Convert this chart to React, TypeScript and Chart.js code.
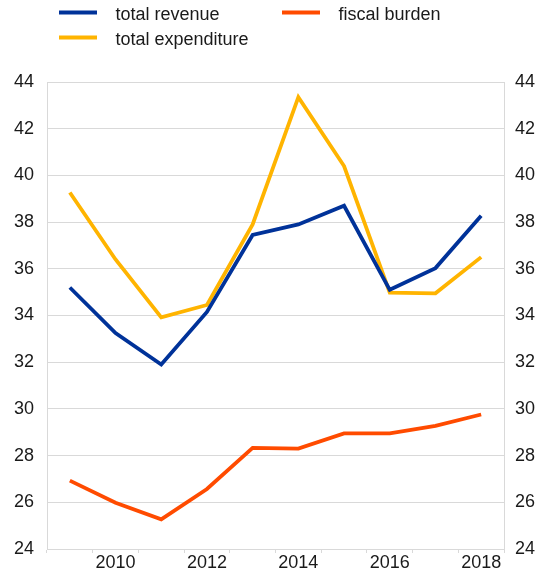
import React, { useEffect, useRef } from "react";
import { Chart, registerables } from "chart.js";

Chart.register(...registerables);

const years = ["2009", "2010", "2011", "2012", "2013", "2014", "2015", "2016", "2017", "2018"];
const shownYearLabels = ["2010", "2012", "2014", "2016", "2018"];

const totalRevenue = [35.2, 33.25, 31.9, 34.15, 37.45, 37.9, 38.7, 35.1, 36.03, 38.27];
const totalExpenditure = [39.27, 36.4, 33.92, 34.45, 37.9, 43.35, 40.4, 34.98, 34.95, 36.5];
const fiscalBurden = [26.93, 25.98, 25.27, 26.57, 28.33, 28.3, 28.95, 28.95, 29.27, 29.76];

const seriesLabels = ["total revenue", "total expenditure", "fiscal burden"];
const seriesColors = ["#003299", "#FFB400", "#FF4B00"];

const yMin = 24;
const yMax = 44;
const yStep = 2;

const FONT = "'Liberation Sans', Arial, sans-serif";
const TEXT_COLOR = "#1a1a1a";
const GRID_COLOR = "#d9d9d9";

const legendPlugin = {
  id: "topLegend",
  afterDraw(chart: any) {
    const ctx = chart.ctx as CanvasRenderingContext2D;
    const slots = [
      { x: 59, lineY: 12.5, textY: 20 },
      { x: 59, lineY: 37.5, textY: 45 },
      { x: 282, lineY: 12.5, textY: 20 },
    ];
    ctx.save();
    chart.data.datasets.forEach((ds: any, i: number) => {
      const s = slots[i];
      ctx.strokeStyle = ds.borderColor;
      ctx.lineWidth = 4;
      ctx.lineCap = "butt";
      ctx.beginPath();
      ctx.moveTo(s.x, s.lineY);
      ctx.lineTo(s.x + 38, s.lineY);
      ctx.stroke();
      ctx.fillStyle = TEXT_COLOR;
      ctx.font = `18px ${FONT}`;
      ctx.textAlign = "left";
      ctx.textBaseline = "alphabetic";
      ctx.fillText(ds.label, s.x + 56.5, s.textY);
    });
    ctx.restore();
  },
};

export default function App() {
  const canvasRef = useRef<HTMLCanvasElement | null>(null);

  useEffect(() => {
    if (!canvasRef.current) return;
    const seriesData = [totalRevenue, totalExpenditure, fiscalBurden];
    const chart = new Chart(canvasRef.current, {
      type: "line",
      data: {
        labels: years,
        datasets: seriesData.map((d, i) => ({
          label: seriesLabels[i],
          data: d,
          borderColor: seriesColors[i],
          backgroundColor: seriesColors[i],
          borderWidth: 3.8,
          pointRadius: 0,
          tension: 0,
          fill: false,
          borderJoinStyle: "miter" as const,
        })),
      },
      options: {
        responsive: false,
        animation: false,
        layout: { padding: { top: 82, left: 0, right: 0, bottom: 0 } },
        plugins: {
          legend: { display: false },
          tooltip: { enabled: false },
        },
        scales: {
          x: {
            type: "category",
            offset: true,
            grid: {
              offset: true,
              drawOnChartArea: false,
              drawTicks: true,
              tickLength: 4,
              color: GRID_COLOR,
            },
            border: { display: true, color: GRID_COLOR },
            ticks: {
              autoSkip: false,
              maxRotation: 0,
              minRotation: 0,
              padding: -1,
              color: TEXT_COLOR,
              font: { family: FONT, size: 18 },
              callback: function (this: any, value: any, index: number) {
                const lbl = years[index];
                return shownYearLabels.includes(lbl) ? lbl : "";
              },
            },
            afterFit: (scale: any) => {
              scale.height = 26;
            },
          },
          y: {
            position: "left",
            min: yMin,
            max: yMax,
            grid: { color: GRID_COLOR, drawTicks: false },
            border: { display: true, color: GRID_COLOR },
            ticks: {
              stepSize: yStep,
              padding: 13,
              color: TEXT_COLOR,
              font: { family: FONT, size: 18 },
            },
            afterFit: (scale: any) => {
              scale.width = 47;
            },
          },
          y2: {
            position: "right",
            min: yMin,
            max: yMax,
            grid: { drawOnChartArea: false, drawTicks: false, color: GRID_COLOR },
            border: { display: true, color: GRID_COLOR },
            ticks: {
              stepSize: yStep,
              padding: 11,
              color: TEXT_COLOR,
              font: { family: FONT, size: 18 },
            },
            afterFit: (scale: any) => {
              scale.width = 38;
            },
          },
        },
      },
      plugins: [legendPlugin],
    });
    return () => chart.destroy();
  }, []);

  return (
    <div style={{ position: "absolute", left: 0, top: 0, width: 542, height: 575, background: "#fff" }}>
      <canvas ref={canvasRef} width={542} height={575} style={{ display: "block" }} />
    </div>
  );
}
